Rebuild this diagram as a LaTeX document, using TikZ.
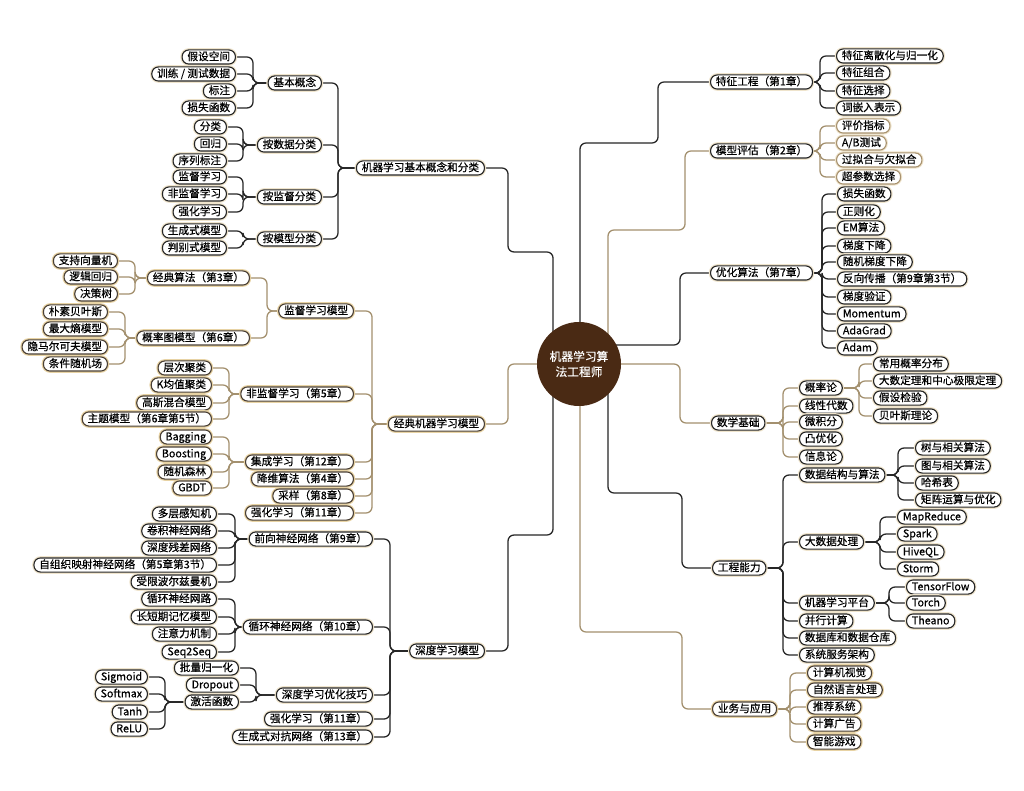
\documentclass[tikz,border=0pt]{standalone}
\usepackage{fontspec}
\setmainfont{Noto Sans CJK SC}[FakeBold=0.6]
\usetikzlibrary{backgrounds}
\definecolor{ink}{HTML}{262626}
\definecolor{tanink}{HTML}{4A4036}
\definecolor{lightink}{HTML}{A8926F}
\definecolor{halo}{HTML}{EFE4CC}
\definecolor{tanhalo}{HTML}{E8D3A4}
\definecolor{tanline}{HTML}{A3906E}
\definecolor{rootc}{HTML}{4A2A14}
\tikzset{
 base/.style={rounded corners=5pt, fill=white, font=\fontsize{8}{9}\selectfont, inner xsep=4pt, inner ysep=1.2pt, text height=6.6pt, text depth=1.6pt, line width=0.85pt},
 nd/.style={base, draw=ink, preaction={draw=halo, line width=2.6pt}},
 ndt/.style={base, draw=tanink, preaction={draw=tanhalo, line width=2.6pt}},
 ndl/.style={base, draw=lightink, preaction={draw=halo, line width=2.4pt}},
 conn/.style={draw=ink, line width=0.95pt, rounded corners=4.5pt},
 connt/.style={draw=tanline, line width=0.95pt, rounded corners=4.5pt},
 L/.style={anchor=east}, R/.style={anchor=west}
}
\begin{document}
\begin{tikzpicture}[x=0.75pt,y=-0.75pt]
\useasboundingbox (0,0) rectangle (1024,791);
% root
\node[circle, fill=rootc, minimum size=63pt, inner sep=0pt, text=white, align=center, font=\fontsize{8.8}{11.5}\selectfont] (root) at (579,364) {机器学习算\\法工程师};

% ===== Left: basic concepts =====
\node[nd,L] (ML1) at (485,168) {机器学习基本概念和分类};
\node[nd,L] (A1) at (322,83) {基本概念};
\node[nd,L] (A2) at (322,145) {按数据分类};
\node[nd,L] (A3) at (322,197) {按监督分类};
\node[nd,L] (A4) at (322,239) {按模型分类};
\node[nd,L] (a11) at (236,57) {假设空间};
\node[nd,L] (a12) at (236,74) {训练 / 测试数据};
\node[nd,L] (a13) at (236,91) {标注};
\node[nd,L] (a14) at (236,108) {损失函数};
\node[nd,L] (a21) at (227,127) {分类};
\node[nd,L] (a22) at (227,144) {回归};
\node[nd,L] (a23) at (227,161) {序列标注};
\node[nd,L] (a31) at (227,177) {监督学习};
\node[nd,L] (a32) at (227,194) {非监督学习};
\node[nd,L] (a33) at (227,212) {强化学习};
\node[nd,L] (a41) at (227,231) {生成式模型};
\node[nd,L] (a42) at (227,248) {判别式模型};

% ===== Left: classic models =====
\node[ndt,L] (ML2) at (485,424) {经典机器学习模型};
\node[ndt,L] (B1) at (354,311) {监督学习模型};
\node[ndt,L] (B2) at (354,394) {非监督学习（第5章）};
\node[ndt,L] (B3) at (354,462) {集成学习（第12章）};
\node[ndt,L] (B4) at (354,479) {降维算法（第4章）};
\node[ndt,L] (B5) at (354,496) {采样（第8章）};
\node[ndt,L] (B6) at (354,513) {强化学习（第11章）};
\node[ndt,L] (B11) at (250,278) {经典算法（第3章）};
\node[ndt,L] (B12) at (250,338) {概率图模型（第6章）};
\node[ndt,L] (b111) at (118,261) {支持向量机};
\node[ndt,L] (b112) at (118,277) {逻辑回归};
\node[ndt,L] (b113) at (118,294) {决策树};
\node[ndt,L] (b121) at (108,312) {朴素贝叶斯};
\node[ndt,L] (b122) at (108,329) {最大熵模型};
\node[ndt,L] (b123) at (108,347) {隐马尔可夫模型};
\node[ndt,L] (b124) at (108,364) {条件随机场};
\node[ndt,L] (b21) at (212,368) {层次聚类};
\node[ndt,L] (b22) at (212,385) {K均值聚类};
\node[ndt,L] (b23) at (212,403) {高斯混合模型};
\node[ndt,L] (b24) at (212,419) {主题模型（第6章第5节）};
\node[ndt,L] (b31) at (212,437) {Bagging};
\node[ndt,L] (b32) at (212,454) {Boosting};
\node[ndt,L] (b33) at (212,472) {随机森林};
\node[ndt,L] (b34) at (212,488) {GBDT};

% ===== Left: deep learning =====
\node[nd,L] (ML3) at (485,651) {深度学习模型};
\node[nd,L] (C1) at (373,539) {前向神经网络（第9章）};
\node[nd,L] (C2) at (373,627) {循环神经网络（第10章）};
\node[nd,L] (C3) at (373,695) {深度学习优化技巧};
\node[nd,L] (C4) at (373,719) {强化学习（第11章）};
\node[nd,L] (C5) at (373,737) {生成式对抗网络（第13章）};
\node[nd,L] (c11) at (217,514) {多层感知机};
\node[nd,L] (c12) at (217,531) {卷积神经网络};
\node[nd,L] (c13) at (217,548) {深度残差网络};
\node[nd,L] (c14) at (217,565) {自组织映射神经网络（第5章第3节）};
\node[nd,L] (c15) at (217,582) {受限波尔兹曼机};
\node[nd,L] (c21) at (217,599) {循环神经网路};
\node[nd,L] (c22) at (217,617) {长短期记忆模型};
\node[nd,L] (c23) at (217,634) {注意力机制};
\node[nd,L] (c24) at (217,652) {Seq2Seq};
\node[nd,L] (c31) at (239,668) {批量归一化};
\node[nd,L] (c32) at (239,685) {Dropout};
\node[nd,L] (c33) at (239,702) {激活函数};
\node[nd,L] (c331) at (148,677) {Sigmoid};
\node[nd,L] (c332) at (148,694) {Softmax};
\node[nd,L] (c333) at (148,712) {Tanh};
\node[nd,L] (c334) at (148,729) {ReLU};

% ===== Right: feature engineering =====
\node[nd,R] (R1) at (710,82) {特征工程（第1章）};
\node[nd,R] (r11) at (836,56) {特征离散化与归一化};
\node[nd,R] (r12) at (836,73) {特征组合};
\node[nd,R] (r13) at (836,91) {特征选择};
\node[nd,R] (r14) at (836,108) {词嵌入表示};
% model evaluation
\node[nd,R] (R2) at (710,151) {模型评估（第2章）};
\node[ndl,R] (r21) at (836,126) {评价指标};
\node[ndl,R] (r22) at (836,143) {A/B测试};
\node[ndl,R] (r23) at (836,160) {过拟合与欠拟合};
\node[ndl,R] (r24) at (836,177) {超参数选择};
% optimization
\node[nd,R] (R3) at (710,273) {优化算法（第7章）};
\node[nd,R] (r31) at (837,194) {损失函数};
\node[nd,R] (r32) at (837,212) {正则化};
\node[nd,R] (r33) at (837,228) {EM算法};
\node[nd,R] (r34) at (837,246) {梯度下降};
\node[nd,R] (r35) at (837,262) {随机梯度下降};
\node[nd,R] (r36) at (837,279) {反向传播（第9章第3节）};
\node[nd,R] (r37) at (837,297) {梯度验证};
\node[nd,R] (r38) at (837,314) {Momentum};
\node[nd,R] (r39) at (837,331) {AdaGrad};
\node[nd,R] (r30) at (837,348) {Adam};
% math
\node[nd,R] (R4) at (711,423) {数学基础};
\node[nd,R] (r41) at (799,388) {概率论};
\node[nd,R] (r42) at (799,406) {线性代数};
\node[nd,R] (r43) at (799,422) {微积分};
\node[nd,R] (r44) at (799,439) {凸优化};
\node[nd,R] (r45) at (799,457) {信息论};
\node[nd,R] (p1) at (873,364) {常用概率分布};
\node[nd,R] (p2) at (873,381) {大数定理和中心极限定理};
\node[nd,R] (p3) at (873,398) {假设检验};
\node[nd,R] (p4) at (873,416) {贝叶斯理论};
% engineering
\node[nd,R] (R5) at (712,568) {工程能力};
\node[nd,R] (e1) at (799,475) {数据结构与算法};
\node[nd,R] (e2) at (799,542) {大数据处理};
\node[nd,R] (e3) at (799,603) {机器学习平台};
\node[nd,R] (e4) at (799,621) {并行计算};
\node[nd,R] (e5) at (799,638) {数据库和数据仓库};
\node[nd,R] (e6) at (799,655) {系统服务架构};
\node[nd,R] (e11) at (915,448) {树与相关算法};
\node[nd,R] (e12) at (915,466) {图与相关算法};
\node[nd,R] (e13) at (915,483) {哈希表};
\node[nd,R] (e14) at (915,500) {矩阵运算与优化};
\node[nd,R] (e21) at (897,517) {MapReduce};
\node[nd,R] (e22) at (897,534) {Spark};
\node[nd,R] (e23) at (897,552) {HiveQL};
\node[nd,R] (e24) at (897,569) {Storm};
\node[nd,R] (e31) at (906,587) {TensorFlow};
\node[nd,R] (e32) at (906,603) {Torch};
\node[nd,R] (e33) at (906,621) {Theano};
% applications
\node[ndt,R] (R6) at (712,709) {业务与应用};
\node[ndt,R] (r61) at (807,673) {计算机视觉};
\node[ndt,R] (r62) at (807,690) {自然语言处理};
\node[ndt,R] (r63) at (807,707) {推荐系统};
\node[ndt,R] (r64) at (807,724) {计算广告};
\node[ndt,R] (r65) at (807,742) {智能游戏};

% bar coordinates
\coordinate (xML1) at (338,0);
\coordinate (xA1) at (253,0);
\coordinate (xA) at (243,0);
\coordinate (xML2) at (372,0);
\coordinate (xB1) at (267,0);
\coordinate (xB11) at (135,0);
\coordinate (xB12) at (125,0);
\coordinate (xB2) at (229,0);
\coordinate (xML3) at (390,0);
\coordinate (xC1) at (235,0);
\coordinate (xC3) at (256,0);
\coordinate (xC33) at (165,0);
\coordinate (xR1) at (820,0);
\coordinate (xR3) at (822,0);
\coordinate (xR4) at (783,0);
\coordinate (xP) at (859,0);
\coordinate (xE1) at (898,0);
\coordinate (xE2) at (880,0);
\coordinate (xE3) at (889,0);
\coordinate (xR6) at (790,0);

\begin{pgfonlayer}{background}
\fill[white] (0,0) rectangle (1024,791);
% trunks
\draw[conn] (root.center) ++(-26,0) |- (508,252) |- (ML1.east);
\draw[connt] (root.center) -- (508,364) |- (ML2.east);
\draw[conn] (root.center) ++(-26,0) |- (508,535) |- (ML3.east);
\draw[conn] (root.center) ++(1,0) |- (658,143) |- (R1.west);
\draw[connt] (root.center) ++(29,0) |- (685,230) |- (R2.west);
\draw[conn] (root.center) ++(0,-19) -- (680,345) |- (R3.west);
\draw[connt] (root.center) -- (680,364) |- (R4.west);
\draw[conn] (root.center) ++(29,0) |- (682,493) |- (R5.west);
\draw[connt] (root.center) ++(1,0) |- (682,632) |- (R6.west);
% left branches
\foreach \c in {A1,A2,A3,A4} \draw[conn] (ML1.west) -- (ML1.west -| xML1) |- (\c.east);
\foreach \c in {a11,a12,a13,a14} \draw[conn] (A1.west) -- (A1.west -| xA1) |- (\c.east);
\foreach \c in {a21,a22,a23} \draw[conn] (A2.west) -- (A2.west -| xA) |- (\c.east);
\foreach \c in {a31,a32,a33} \draw[conn] (A3.west) -- (A3.west -| xA) |- (\c.east);
\foreach \c in {a41,a42} \draw[conn] (A4.west) -- (A4.west -| xA) |- (\c.east);
\foreach \c in {B1,B2,B3,B4,B5,B6} \draw[connt] (ML2.west) -- (ML2.west -| xML2) |- (\c.east);
\foreach \c in {B11,B12} \draw[connt] (B1.west) -- (B1.west -| xB1) |- (\c.east);
\foreach \c in {b111,b112,b113} \draw[connt] (B11.west) -- (B11.west -| xB11) |- (\c.east);
\foreach \c in {b121,b122,b123,b124} \draw[connt] (B12.west) -- (B12.west -| xB12) |- (\c.east);
\foreach \c in {b21,b22,b23,b24} \draw[connt] (B2.west) -- (B2.west -| xB2) |- (\c.east);
\foreach \c in {b31,b32,b33,b34} \draw[connt] (B3.west) -- (B3.west -| xB2) |- (\c.east);
\foreach \c in {C1,C2,C3,C4,C5} \draw[conn] (ML3.west) -- (ML3.west -| xML3) |- (\c.east);
\foreach \c in {c11,c12,c13,c14,c15} \draw[conn] (C1.west) -- (C1.west -| xC1) |- (\c.east);
\foreach \c in {c21,c22,c23,c24} \draw[conn] (C2.west) -- (C2.west -| xC1) |- (\c.east);
\foreach \c in {c31,c32,c33} \draw[conn] (C3.west) -- (C3.west -| xC3) |- (\c.east);
\foreach \c in {c331,c332,c333,c334} \draw[conn] (c33.west) -- (c33.west -| xC33) |- (\c.east);
% right branches
\foreach \c in {r11,r12,r13,r14} \draw[conn] (R1.east) -- (R1.east -| xR1) |- (\c.west);
\foreach \c in {r21,r22,r23,r24} \draw[connt] (R2.east) -- (R2.east -| xR1) |- (\c.west);
\foreach \c in {r31,r32,r33,r34,r35,r36,r37,r38,r39,r30} \draw[conn] (R3.east) -- (R3.east -| xR3) |- (\c.west);
\foreach \c in {r41,r42,r43,r44,r45} \draw[connt] (R4.east) -- (R4.east -| xR4) |- (\c.west);
\foreach \c in {p1,p2,p3,p4} \draw[connt] (r41.east) -- (r41.east -| xP) |- (\c.west);
\foreach \c in {e1,e2,e3,e4,e5,e6} \draw[conn] (R5.east) -- (R5.east -| xR4) |- (\c.west);
\foreach \c in {e11,e12,e13,e14} \draw[conn] (e1.east) -- (e1.east -| xE1) |- (\c.west);
\foreach \c in {e21,e22,e23,e24} \draw[conn] (e2.east) -- (e2.east -| xE2) |- (\c.west);
\foreach \c in {e31,e32,e33} \draw[conn] (e3.east) -- (e3.east -| xE3) |- (\c.west);
\foreach \c in {r61,r62,r63,r64,r65} \draw[connt] (R6.east) -- (R6.east -| xR6) |- (\c.west);
\end{pgfonlayer}
\end{tikzpicture}
\end{document}
